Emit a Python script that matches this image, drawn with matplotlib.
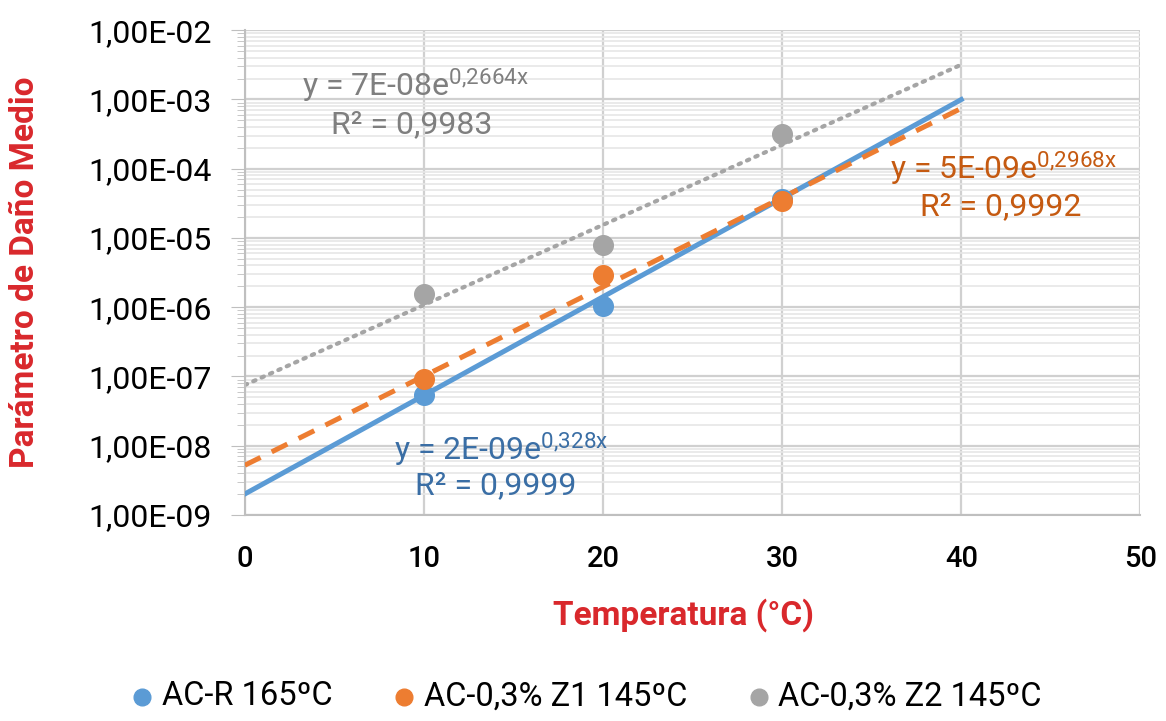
import numpy as np
import matplotlib.pyplot as plt
from matplotlib.ticker import FixedLocator, LogLocator, FuncFormatter, NullFormatter

plt.rcParams['font.family'] = ['Roboto', 'DejaVu Sans']
plt.rcParams['mathtext.fontset'] = 'custom'
plt.rcParams['mathtext.rm'] = 'Roboto'
plt.rcParams['mathtext.it'] = 'Roboto'

# Data
temps = [10, 20, 30]
acr_165 = [5.4e-8, 1.05e-6, 3.7e-5]
z1_145 = [9.3e-8, 2.9e-6, 3.4e-5]
z2_145 = [1.55e-6, 8.0e-6, 3.2e-4]

# Exponential trendlines (a * e^(b x)) as printed on the chart
trend_acr = (2.0e-9, 0.328)
trend_z1 = (5.2e-9, 0.2968)
trend_z2 = (7.5e-8, 0.2664)

labels = ['AC-R 165ºC', 'AC-0,3% Z1 145ºC', 'AC-0,3% Z2 145ºC']
blue, orange, gray = '#5B9BD5', '#ED7D31', '#A5A5A5'
red = '#D9282C'

fig = plt.figure(figsize=(11.66, 7.21), dpi=100)
ax = fig.add_axes([0.210, 0.286, 0.768, 0.672])

xt = np.linspace(0, 40, 100)
ax.plot(xt, trend_z2[0] * np.exp(trend_z2[1] * xt), color=gray, lw=3,
        linestyle=(0, (0.6, 1.6)), dash_capstyle='round', zorder=2)
ax.plot(xt, trend_acr[0] * np.exp(trend_acr[1] * xt), color=blue, lw=3.6,
        zorder=3)
ax.plot(xt, trend_z1[0] * np.exp(trend_z1[1] * xt), color=orange, lw=3.6,
        linestyle=(0, (3.5, 2.5)), zorder=4)

ax.scatter(temps, acr_165, s=200, color=blue, zorder=5, label=labels[0])
ax.scatter(temps, z1_145, s=200, color=orange, zorder=6, label=labels[1])
ax.scatter(temps, z2_145, s=200, color=gray, zorder=5, label=labels[2])

ax.set_yscale('log')
ax.set_ylim(1e-9, 1e-2)
ax.set_xlim(0, 50)
ax.set_xticks([0, 10, 20, 30, 40, 50])
ax.yaxis.set_major_locator(FixedLocator([10.0 ** k for k in range(-9, -1)]))
ax.yaxis.set_minor_locator(LogLocator(base=10, subs=np.arange(2, 10)))
ax.yaxis.set_minor_formatter(NullFormatter())
ax.yaxis.set_major_formatter(FuncFormatter(
    lambda v, p: ('%.2E' % v).replace('.', ',')))

ax.grid(which='major', color='#D0D0D0', lw=1.6)
ax.grid(which='minor', axis='y', color='#E6E6E6', lw=1.2)
ax.set_axisbelow(True)
for s in ['top', 'right']:
    ax.spines[s].set_visible(False)
ax.spines['left'].set_color('#BFBFBF')
ax.spines['bottom'].set_color('#BFBFBF')
ax.spines['left'].set_linewidth(1.5)
ax.spines['bottom'].set_linewidth(1.5)
ax.tick_params(axis='x', length=0, labelsize=21, pad=22)
ax.tick_params(axis='y', which='major', length=10, color='#BFBFBF',
               labelsize=23, pad=14)
ax.tick_params(axis='y', which='minor', length=6, color='#BFBFBF')
for t in ax.get_xticklabels():
    t.set_fontweight('medium')

ax.set_xlabel('Temperatura (°C)', color=red, fontsize=24, fontweight='bold')
ax.set_ylabel('Parámetro de Daño Medio', color=red, fontsize=24,
              fontweight='bold')
ax.xaxis.set_label_coords(0.49, -0.172)
ax.yaxis.set_label_coords(-0.228, 0.5)

tk = dict(fontsize=23, ha='left', va='center')
ax.text(3.2, 1.6e-3, r'y = 7E-08e$^{0{,}2664x}$', color='#7F7F7F', **tk)
ax.text(4.8, 4.3e-4, 'R² = 0,9983', color='#7F7F7F', **tk)
ax.text(8.3, 8.7e-9, r'y = 2E-09e$^{0{,}328x}$', color='#3A6EA5', **tk)
ax.text(9.5, 2.6e-9, 'R² = 0,9999', color='#3A6EA5', **tk)
ax.text(36.0, 1.0e-4, r'y = 5E-09e$^{0{,}2968x}$', color='#C55A11', **tk)
ax.text(37.7, 2.8e-5, 'R² = 0,9992', color='#C55A11', **tk)

fig.legend(loc='center', bbox_to_anchor=(0.502, 0.034), ncol=3, frameon=False,
           fontsize=23.5, handlelength=0.8, handletextpad=0.2,
           columnspacing=1.8, markerscale=0.85)

fig.savefig('out.png', dpi=100)
